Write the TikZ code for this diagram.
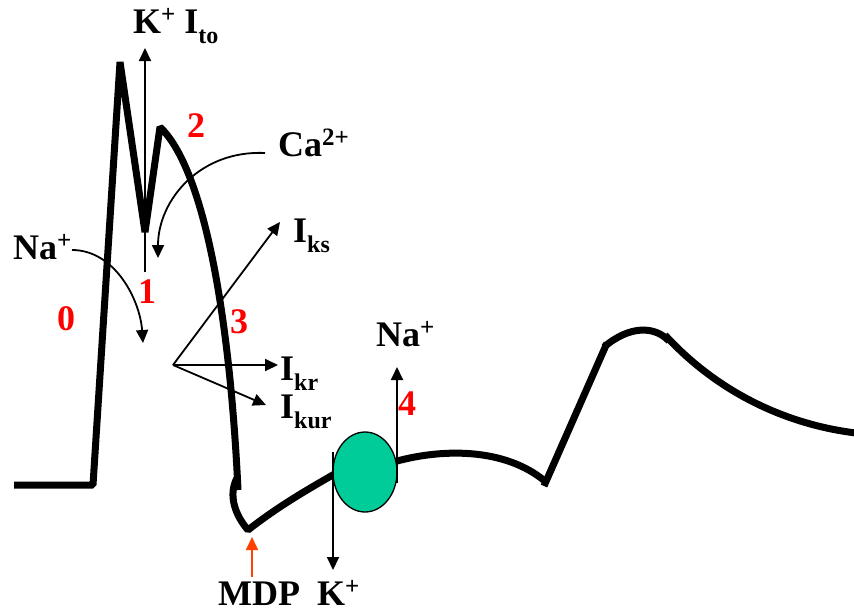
\documentclass[tikz,border=0pt]{standalone}
\usepackage{fontspec}
\setmainfont{Liberation Serif}
\usetikzlibrary{arrows.meta,shapes.geometric}
\definecolor{chgreen}{RGB}{0,204,153}
\definecolor{mdpred}{RGB}{255,64,0}
\newcommand\supp[1]{\raisebox{0.28em}{\fontsize{25}{25}\selectfont #1}}
\newcommand\subb[1]{\raisebox{-0.28em}{\fontsize{24}{24}\selectfont #1}}
\begin{document}
\begin{tikzpicture}[x=1pt,y=-1pt,
  apline/.style={line width=7pt,line join=bevel,line cap=butt},
  ion/.style={line width=1.8pt,-{Triangle[length=13pt,width=12pt]}},
  lbl/.style={font=\bfseries\fontsize{36}{36}\selectfont,inner sep=0pt,anchor=base west},
  num/.style={lbl,text=red}]
\useasboundingbox (0,0) rectangle (854,614);
% action potential trace
\draw[apline] (14,485) -- (93,485) -- (120,62) -- (145,232) -- (160,127)
  .. controls (205,170) and (230,320) .. (238,490);
\draw[apline] (237,478) .. controls (228,495) and (235,515) .. (248,530)
  .. controls (280,505) and (310,488) .. (345,468);
\draw[apline] (390,463) .. controls (440,448) and (505,447) .. (546,482);
\draw[apline] (544,486) -- (607,343);
\draw[apline] (604,347) .. controls (630,325) and (655,326) .. (669,341);
\draw[apline] (665,335) .. controls (720,395) and (790,425) .. (856,433);
% channel
\node[ellipse,draw=black,line width=1.3pt,fill=chgreen,minimum width=64pt,minimum height=80pt,inner sep=0pt] (chan) at (365,472) {};
% coordinates
\coordinate (kS) at (145,272); \coordinate (kE) at (145,48);
\coordinate (caS) at (265,153); \coordinate (caE) at (158,258);
\coordinate (naS) at (72,250); \coordinate (naE) at (143,343);
\coordinate (fan) at (173,365);
\coordinate (ksE) at (280,222); \coordinate (krE) at (278,365); \coordinate (kurE) at (266,405);
\coordinate (koS) at (333,452); \coordinate (koE) at (333,570);
\coordinate (niS) at (397,483); \coordinate (niE) at (397,367);
\coordinate (mS) at (252,577); \coordinate (mE) at (252,537);
% arrows
\draw[ion] (kS) -- (kE);
\draw[ion] (caS) .. controls (200,150) and (158,200) .. (caE);
\draw[ion] (naS) .. controls (115,250) and (140,300) .. (naE);
\draw[ion] (fan) -- (ksE);
\draw[ion] (fan) -- (krE);
\draw[ion] (fan) -- (kurE);
\draw[ion] (koS) -- (koE);
\draw[ion] (niS) -- (niE);
\draw[ion,draw=mdpred,fill=mdpred] (mS) -- (mE);
% labels
\node[lbl] (kito) at (133,33) {K\supp{+} I\subb{to}};
\node[lbl] (ca) at (278,156) {Ca\supp{2+}};
\node[lbl] (naL) at (13,259) {Na\supp{+}};
\node[lbl] (iks) at (293,242) {I\subb{ks}};
\node[lbl] (ikr) at (280,380) {I\subb{kr}};
\node[lbl] (ikur) at (280,418) {I\subb{kur}};
\node[lbl] (naR) at (376,346) {Na\supp{+}};
\node[lbl] (kB) at (317,605) {K\supp{+}};
\node[lbl] (mdp) at (218,605) {MDP};
\node[num] (n0) at (57,330) {0};
\node[num] (n1) at (138,303) {1};
\node[num] (n2) at (187,137) {2};
\node[num] (n3) at (230,333) {3};
\node[num] (n4) at (398,415) {4};
\end{tikzpicture}
\end{document}
